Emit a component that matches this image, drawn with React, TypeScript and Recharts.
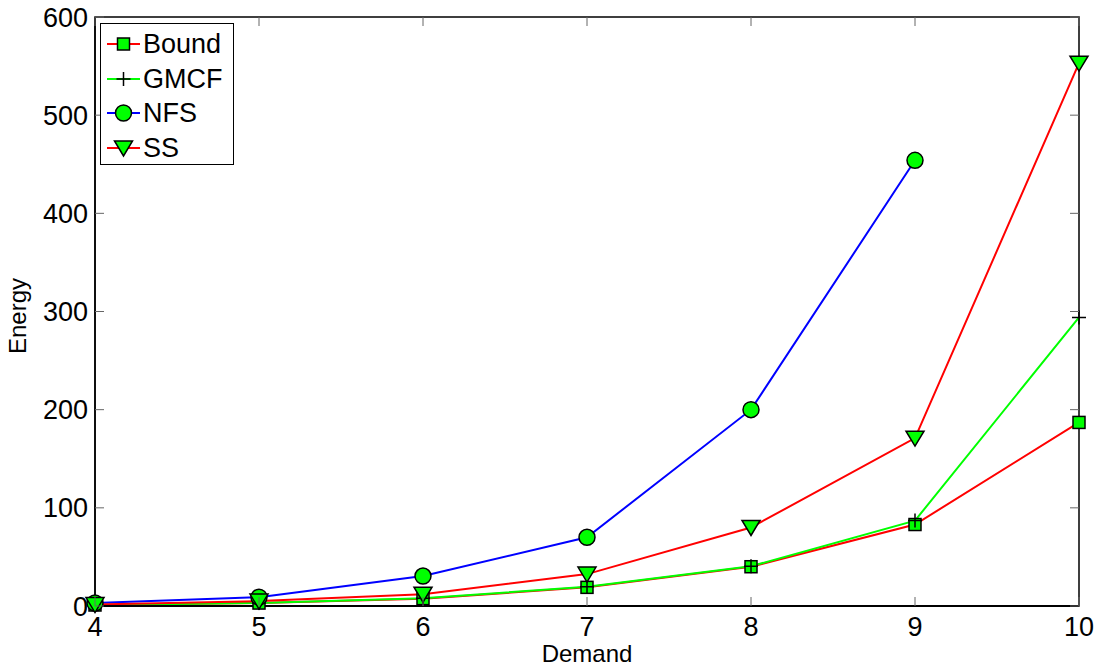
import { LineChart, Line, XAxis, YAxis, ReferenceArea } from 'recharts'

const demand = [4, 5, 6, 7, 8, 9, 10]
const bound = [1, 3, 7.5, 19, 40, 83, 187]
const gmcf = [1, 3, 8, 19.5, 40.5, 87, 294]
const nfs = [3, 9, 30.5, 70, 200, 454, null]
const ss = [1.5, 5, 12, 32.5, 80, 171, 553]

const xTicks = [4, 5, 6, 7, 8, 9, 10]
const yTicks = [0, 100, 200, 300, 400, 500, 600]

const data = demand.map((d, i) => ({
  demand: d,
  bound: bound[i],
  gmcf: gmcf[i],
  nfs: nfs[i],
  ss: ss[i],
}))

// plot frame in page pixels (comes from the margins below)
const W = 1102
const H = 669
const LEFT = 95
const RIGHT = 1079
const TOP = 17
const BOTTOM = 606
const FONT = '"Liberation Sans", Arial, sans-serif'
const GREEN = '#00ff00'

function Square({ cx, cy }: { cx: number; cy: number }) {
  return <rect x={cx - 6} y={cy - 6} width={12} height={12} fill={GREEN} stroke="#000" strokeWidth={1.5} />
}
function Plus({ cx, cy }: { cx: number; cy: number }) {
  return (
    <path d={`M${cx - 7},${cy}H${cx + 7}M${cx},${cy - 7}V${cy + 7}`} stroke="#000" strokeWidth={1.5} fill="none" />
  )
}
function Circle({ cx, cy }: { cx: number; cy: number }) {
  return <circle cx={cx} cy={cy} r={8} fill={GREEN} stroke="#000" strokeWidth={1.5} />
}
function Tri({ cx, cy }: { cx: number; cy: number }) {
  return (
    <path
      d={`M${cx - 9},${cy - 7}L${cx + 9},${cy - 7}L${cx},${cy + 8}Z`}
      fill={GREEN}
      stroke="#000"
      strokeWidth={1.5}
      strokeLinejoin="miter"
    />
  )
}

const makeDot = (Shape: any, name: string) => (props: any) => {
  const { cx, cy, index } = props
  if (cx == null || cy == null || props.value == null) return <g key={`${name}-${index}`} />
  return (
    <g key={`${name}-${index}`}>
      <Shape cx={cx} cy={cy} />
    </g>
  )
}

const series = [
  { key: 'bound', name: 'Bound', color: '#ff0000', shape: Square },
  { key: 'gmcf', name: 'GMCF', color: GREEN, shape: Plus },
  { key: 'nfs', name: 'NFS', color: '#0000ff', shape: Circle },
  { key: 'ss', name: 'SS', color: '#ff0000', shape: Tri },
]

function XTick(props: any) {
  const { x, payload } = props
  return (
    <g>
      <line x1={x} y1={BOTTOM} x2={x} y2={BOTTOM - 9} stroke="#666" strokeWidth={1} />
      <line x1={x} y1={TOP} x2={x} y2={TOP + 9} stroke="#666" strokeWidth={1} />
      <text x={x} y={BOTTOM + 30} textAnchor="middle" fontSize={27} fontFamily={FONT} fill="#000">
        {payload.value}
      </text>
    </g>
  )
}

function YTick(props: any) {
  const { y, payload } = props
  return (
    <g>
      <line x1={LEFT} y1={y} x2={LEFT + 9} y2={y} stroke="#666" strokeWidth={1} />
      <line x1={RIGHT} y1={y} x2={RIGHT - 9} y2={y} stroke="#666" strokeWidth={1} />
      <text x={LEFT - 7} y={y + 9.5} textAnchor="end" fontSize={27} fontFamily={FONT} fill="#000">
        {payload.value}
      </text>
    </g>
  )
}

function LegendBox() {
  return (
    <div
      style={{
        position: 'absolute',
        left: 100,
        top: 23,
        border: '1.5px solid #000',
        background: '#fff',
        width: 134,
        height: 142,
        boxSizing: 'border-box',
        paddingTop: 3,
        fontFamily: FONT,
      }}
    >
      {series.map((s) => {
        const Shape = s.shape
        return (
          <div key={s.key} style={{ display: 'flex', alignItems: 'center', height: 34.5 }}>
            <svg width={42} height={34} style={{ display: 'block' }}>
              <line x1={6} y1={17} x2={39} y2={17} stroke={s.color} strokeWidth={2} />
              <Shape cx={22.5} cy={17} />
            </svg>
            <span style={{ fontSize: 27, lineHeight: '34px', color: '#000' }}>{s.name}</span>
          </div>
        )
      })}
    </div>
  )
}

export default function App() {
  return (
    <div style={{ position: 'absolute', left: 0, top: 0, width: W, height: H, background: '#fff' }}>
      <LineChart width={W} height={H} data={data} margin={{ top: TOP, right: W - RIGHT, bottom: 0, left: 0 }}>
        <ReferenceArea x1={4} x2={10} y1={0} y2={600} fill="none" stroke="#000" strokeWidth={1.5} />
        <XAxis
          dataKey="demand"
          type="number"
          domain={[4, 10]}
          ticks={xTicks}
          height={H - BOTTOM}
          axisLine={{ stroke: '#000', strokeWidth: 2 }}
          tickLine={false}
          tick={<XTick />}
          interval={0}
          label={{
            content: () => (
              <text x={(LEFT + RIGHT) / 2} y={662} textAnchor="middle" fontSize={24} fontFamily={FONT} fill="#000">
                Demand
              </text>
            ),
          }}
        />
        <YAxis
          type="number"
          domain={[0, 600]}
          ticks={yTicks}
          width={LEFT}
          axisLine={{ stroke: '#000', strokeWidth: 1.5 }}
          tickLine={false}
          tick={<YTick />}
          interval={0}
          label={{
            content: () => (
              <text
                x={26}
                y={316}
                transform="rotate(-90 26 316)"
                textAnchor="middle"
                fontSize={24}
                fontFamily={FONT}
                fill="#000"
              >
                Energy
              </text>
            ),
          }}
        />
        {series.map((s) => (
          <Line
            key={s.key}
            dataKey={s.key}
            name={s.name}
            stroke={s.color}
            strokeWidth={2}
            dot={makeDot(s.shape, s.key)}
            activeDot={false}
            isAnimationActive={false}
          />
        ))}
      </LineChart>
      <LegendBox />
    </div>
  )
}
